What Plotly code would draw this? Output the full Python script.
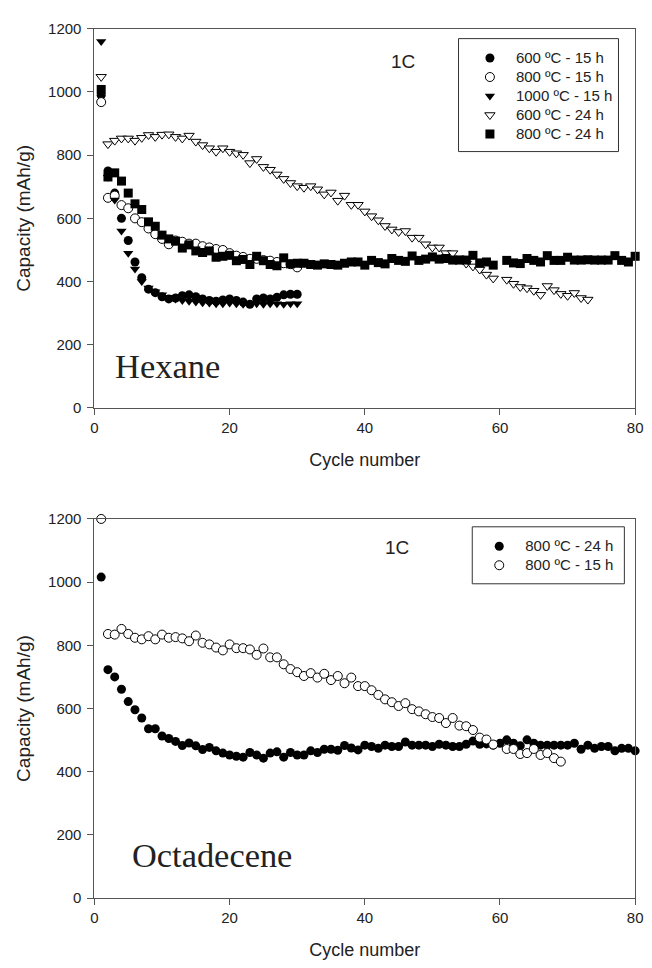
import plotly.graph_objects as go

# ---------------- Data (Hexane, top panel) ----------------
hex_600_15h = [990, 750, 680, 600, 530, 462, 412, 376, 365, 352, 345, 348, 355, 358, 352,
               345, 340, 338, 342, 345, 340, 335, 328, 345, 348, 345, 350, 358, 360, 360]
hex_800_15h = [968, 665, 672, 642, 632, 600, 588, 568, 550, 535, 518, 530, 526, 520, 520,
               512, 508, 503, 500, 490, 482, 478, 472, 472, 468, 466, 462, 458, 455, 445]
hex_1000_15h = [1160, 730, 658, 560, 490, 440, 400, 380, 368, 358, 350, 345, 340, 338, 335,
                333, 332, 330, 330, 332, 330, 328, 330, 330, 328, 330, 330, 328, 330, 330]
hex_600_24h_x = list(range(1, 60)) + list(range(61, 74))
hex_600_24h = [1048, 835, 846, 853, 853, 846, 855, 864, 858, 865, 866, 858, 853, 862, 843,
               832, 822, 811, 822, 811, 806, 801, 775, 788, 763, 754, 739, 725, 712, 702,
               697, 702, 692, 676, 682, 656, 672, 643, 643, 622, 607, 594, 576, 565, 557,
               560, 539, 539, 518, 508, 508, 490, 490, 473, 457, 448, 438, 422, 410,
               406, 393, 383, 379, 371, 358, 386, 373, 361, 355, 364, 348, 343, 338]
hex_800_24h_x = list(range(1, 60)) + list(range(61, 81))
hex_800_24h = [1008, 731, 744, 718, 680, 646, 628, 589, 575, 547, 535, 528, 506, 516, 497,
               492, 497, 477, 480, 483, 466, 470, 454, 480, 466, 454, 450, 475, 456, 458,
               458, 454, 452, 456, 454, 452, 458, 462, 462, 452, 467, 460, 456, 473, 467,
               464, 481, 467, 471, 478, 471, 473, 468, 468, 468, 483, 459, 462, 452,
               467, 459, 457, 473, 467, 462, 482, 467, 467, 477, 468, 468, 469, 468, 468,
               468, 482, 467, 462, 480]

# ---------------- Data (Octadecene, bottom panel) ----------------
oct_800_24h = [1016, 723, 700, 661, 622, 596, 570, 536, 536, 513, 505, 496, 483, 491, 482,
               470, 477, 466, 459, 453, 449, 446, 461, 453, 443, 459, 463, 446, 461, 453,
               453, 466, 461, 471, 471, 468, 483, 475, 469, 484, 480, 474, 484, 480, 480,
               494, 484, 484, 484, 480, 487, 484, 480, 480, 487, 497, 487, 488, 484, 490,
               501, 490, 482, 501, 490, 484, 484, 484, 484, 484, 490, 471, 484, 474, 480,
               480, 466, 474, 474, 466]
oct_800_15h_x = list(range(1, 60)) + list(range(61, 70))
oct_800_15h = [1200, 836, 834, 852, 836, 824, 819, 829, 819, 834, 824, 826, 822, 813, 831,
               808, 803, 793, 784, 803, 791, 791, 787, 770, 790, 762, 762, 740, 725, 715,
               703, 712, 698, 710, 690, 703, 680, 698, 671, 671, 658, 643, 629, 620, 608,
               617, 598, 591, 582, 573, 570, 554, 570, 546, 544, 532, 508, 502, 486,
               472, 472, 456, 459, 472, 453, 459, 443, 432]

x_ticks = [0, 20, 40, 60, 80]
y_ticks = [0, 200, 400, 600, 800, 1000, 1200]

# page body has an 8px default margin, so the figure is drawn 8px in from the window edge
OFF = 8
W, H = 652 - OFF, 968 - OFF
FONT = "Liberation Sans, Arial, sans-serif"
SERIF = "Liberation Serif, Times New Roman, serif"
AX = "#555555"
TXT = "#222222"


def seq(vals):
    return list(range(1, len(vals) + 1))


def lbl(s):
    return '<span style="font-size:15px">' + s + "</span>"


def mk(name, x, y, symbol, filled, xa, ya, legend):
    return go.Scatter(
        x=x, y=y, mode="markers", name=lbl(name), xaxis=xa, yaxis=ya, legend=legend,
        cliponaxis=False,
        marker=dict(symbol=symbol, size=9,
                    color="black" if filled else "white",
                    line=dict(color="black", width=0 if filled else 1)),
    )


fig = go.Figure()
fig.add_trace(mk("600 ºC - 15 h", seq(hex_600_15h), hex_600_15h, "circle", True, "x", "y", "legend"))
fig.add_trace(mk("800 ºC - 15 h", seq(hex_800_15h), hex_800_15h, "circle", False, "x", "y", "legend"))
fig.add_trace(mk("1000 ºC - 15 h", seq(hex_1000_15h), hex_1000_15h, "triangle-down", True, "x", "y", "legend"))
fig.add_trace(mk("600 ºC - 24 h", hex_600_24h_x, hex_600_24h, "triangle-down", False, "x", "y", "legend"))
fig.add_trace(mk("800 ºC - 24 h", hex_800_24h_x, hex_800_24h, "square", True, "x", "y", "legend"))

fig.add_trace(mk("800 ºC - 24 h", seq(oct_800_24h), oct_800_24h, "circle", True, "x2", "y2", "legend2"))
fig.add_trace(mk("800 ºC - 15 h", oct_800_15h_x, oct_800_15h, "circle", False, "x2", "y2", "legend2"))


def px_x(p):  # screen pixel -> paper fraction
    return (p - OFF) / W


def px_y(p):
    return 1 - (p - OFF) / H


xaxis_common = dict(
    showline=True, linecolor=AX, linewidth=1, mirror=True, ticks="outside",
    ticklen=6, tickcolor=AX, showgrid=False, zeroline=False,
    tickfont=dict(family=FONT, size=15, color=TXT),
)
yaxis_common = dict(xaxis_common, ticklabelstandoff=3)
xtitle = dict(text="Cycle number", font=dict(size=18, family=FONT, color=TXT), standoff=18)
ytitle = dict(text="Capacity (mAh/g)", font=dict(size=19, family=FONT, color=TXT), standoff=12)

top_dom = [px_y(406), px_y(20)]
bot_dom = [px_y(905), px_y(519)]
x_dom = [px_x(92), px_x(643)]

fig.update_layout(
    width=W, height=H,
    margin=dict(l=0, r=0, t=0, b=0),
    plot_bgcolor="white", paper_bgcolor="white",
    font=dict(family=FONT, color=TXT),
    xaxis=dict(domain=x_dom, anchor="y", range=[0, 80], tickvals=x_ticks, title=xtitle, **xaxis_common),
    yaxis=dict(domain=top_dom, anchor="x", range=[0, 1200], tickvals=y_ticks, title=ytitle, **yaxis_common),
    xaxis2=dict(domain=x_dom, anchor="y2", range=[0, 80], tickvals=x_ticks, title=xtitle, **xaxis_common),
    yaxis2=dict(domain=bot_dom, anchor="x2", range=[0, 1200], tickvals=y_ticks, title=ytitle, **yaxis_common),
    legend=dict(x=px_x(468.5), y=px_y(35), xanchor="left", yanchor="top",
                bgcolor="rgba(0,0,0,0)", borderwidth=0,
                font=dict(family=FONT, size=12.2, color=TXT), itemwidth=42),
    legend2=dict(x=px_x(478), y=px_y(532), xanchor="left", yanchor="top",
                 bgcolor="rgba(0,0,0,0)", borderwidth=0,
                 font=dict(family=FONT, size=12.2, color=TXT), itemwidth=42),
    showlegend=True,
)

# legend frames
fig.add_shape(type="rect", xref="paper", yref="paper",
              x0=px_x(463), x1=px_x(626), y0=px_y(145), y1=px_y(30),
              line=dict(color="#333", width=1))
fig.add_shape(type="rect", xref="paper", yref="paper",
              x0=px_x(477), x1=px_x(632), y0=px_y(585), y1=px_y(527),
              line=dict(color="#333", width=1))

fig.add_annotation(x=45.7, y=1097, xref="x", yref="y", text="1C", showarrow=False,
                   font=dict(family=FONT, size=19, color=TXT))
fig.add_annotation(x=44.7, y=1110, xref="x2", yref="y2", text="1C", showarrow=False,
                   font=dict(family=FONT, size=19, color=TXT))
fig.add_annotation(x=2.7, y=132, xref="x", yref="y", text="Hexane", showarrow=False,
                   xanchor="left", yanchor="middle",
                   font=dict(family=SERIF, size=34.5, color=TXT))
fig.add_annotation(x=5.25, y=137, xref="x2", yref="y2", text="Octadecene", showarrow=False,
                   xanchor="left", yanchor="middle",
                   font=dict(family=SERIF, size=34.4, color=TXT))

fig.write_html("out.html")
